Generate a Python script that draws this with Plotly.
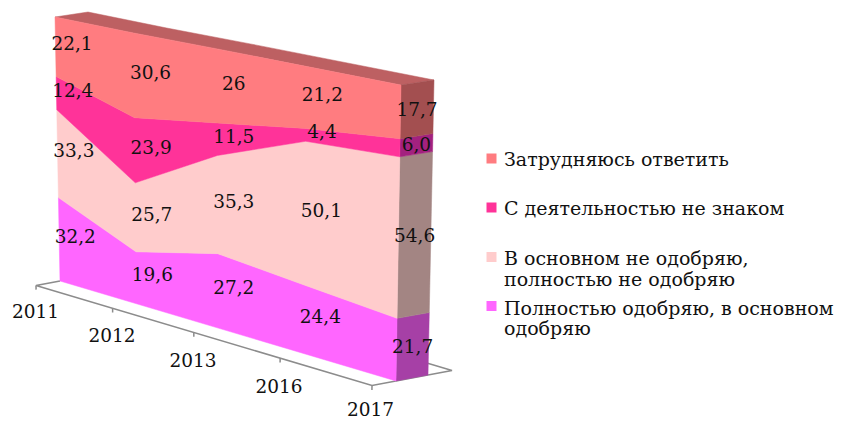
import numpy as np
import plotly.graph_objects as go

# ---- data ----
years = ["2011", "2012", "2013", "2016", "2017"]
approve = [32.2, 19.6, 27.2, 24.4, 21.7]
disapprove = [33.3, 25.7, 35.3, 50.1, 54.6]
unfamiliar = [12.4, 23.9, 11.5, 4.4, 6.0]
undecided = [22.1, 30.6, 26.0, 21.2, 17.7]
value_labels = [
    ["32,2", "19,6", "27,2", "24,4", "21,7"],
    ["33,3", "25,7", "35,3", "50,1", "54,6"],
    ["12,4", "23,9", "11,5", "4,4", "6,0"],
    ["22,1", "30,6", "26", "21,2", "17,7"],
]
legend_lines = [
    "Затрудняюсь ответить",
    "С деятельностью не знаком",
    "В основном не одобряю,",
    "полностью не одобряю",
    "Полностью одобряю, в основном",
    "одобряю",
]

# ---- style ----
W, H = 841, 423
front_colors = ["#FF66FF", "#FFCCCC", "#FF3399", "#FF7C80"]
side_colors = ["#A640A6", "#A38583", "#A3217F", "#A34F50"]
top_color = "#BD6062"
axis_color = "#8C8C8C"
text_color = "#111111"
FONT = "DejaVu Serif"
LABEL_SIZE = 18.5
LEGEND_SIZE = 19

# ---- oblique / perspective projection (category index, percent, depth) -> page ----
src = [(0, 0), (4, 0), (0, 100), (4, 100)]
dst = [(60, 281), (396, 381), (55, 17), (401, 85)]
A, b = [], []
for (u, v), (px, py) in zip(src, dst):
    A.append([u, v, 1, 0, 0, 0, -u * px, -v * px])
    A.append([0, 0, 0, u, v, 1, -u * py, -v * py])
    b += [px, py]
h = np.linalg.solve(np.array(A, float), np.array(b, float))


def project(u, v, d=0.0):
    w = h[6] * u + h[7] * v + 1
    x = (h[0] * u + h[1] * v + h[2]) / w
    y = (h[3] * u + h[4] * v + h[5]) / w
    return x + d * (32 + v / 100), y + d * (-6 + v / 100)


def path(points):
    xs, ys = zip(*[project(*p) for p in points])
    return list(xs), list(ys)


fig = go.Figure()


def poly(points, color):
    xs, ys = path(points)
    fig.add_trace(go.Scatter(x=xs + xs[:1], y=ys + ys[:1], mode="lines", fill="toself",
                             fillcolor=color, line=dict(color=color, width=0.5),
                             hoverinfo="skip", showlegend=False))


def line(points):
    xs, ys = path(points)
    fig.add_trace(go.Scatter(x=xs, y=ys, mode="lines", line=dict(color=axis_color, width=1.5),
                             hoverinfo="skip", showlegend=False))


series = [approve, disapprove, unfamiliar, undecided]
stack = np.cumsum(np.array([[0] * 5] + series, float), axis=0)
n = len(years)
last = n - 1
D_FRONT, D_BACK = -0.75, 1.75

# floor frame and ticks
line([(0, 0, 0), (0, 0, D_FRONT), (last, 0, D_FRONT), (last, 0, D_BACK), (0, 0, D_BACK)])
for i in range(n):
    line([(i, 0, D_FRONT), (i, -1.6, D_FRONT)])

# top and right side faces
poly([(i, stack[-1][i], 0) for i in range(n)] + [(i, stack[-1][i], 1) for i in reversed(range(n))], top_color)
for k, c in enumerate(side_colors):
    poly([(last, stack[k][last], 0), (last, stack[k + 1][last], 0),
          (last, stack[k + 1][last], 1), (last, stack[k][last], 1)], c)

# front faces
for k, c in enumerate(front_colors):
    poly([(i, stack[k + 1][i], 0) for i in range(n)] + [(i, stack[k][i], 0) for i in reversed(range(n))], c)

# data labels
for k, labels in enumerate(value_labels):
    pts = [project(i, (stack[k][i] + stack[k + 1][i]) / 2, 0.5) for i in range(n)]
    fig.add_trace(go.Scatter(x=[p[0] for p in pts], y=[p[1] + 1.5 for p in pts], mode="text", text=labels,
                             textposition="middle center",
                             textfont=dict(family=FONT, size=LABEL_SIZE, color=text_color),
                             hoverinfo="skip", showlegend=False))

# category labels (kept inside the page at the bottom edge)
pts = [project(i, -11, D_FRONT) for i in range(n)]
fig.add_trace(go.Scatter(x=[p[0] - 1 for p in pts], y=[min(p[1], H - 12) for p in pts], mode="text", text=years,
                         textposition="middle center",
                         textfont=dict(family=FONT, size=LABEL_SIZE, color=text_color),
                         hoverinfo="skip", showlegend=False))

# legend
legend_y = [158.5, 207.5, 257, 306]
line_y = [159, 207.5, 258, 278.5, 307.5, 328]
legend_colors = front_colors[::-1]
fig.add_trace(go.Scatter(x=[491.5] * 4, y=legend_y, mode="markers",
                         marker=dict(symbol="square", size=10, color=legend_colors, line=dict(width=0)),
                         hoverinfo="skip", showlegend=False))
for name, y in zip(legend_lines, line_y):
    fig.add_annotation(x=502, y=y, xref="x", yref="y", text=name, showarrow=False,
                       xanchor="left", yanchor="middle", align="left",
                       font=dict(family=FONT, size=LEGEND_SIZE, color=text_color))

fig.update_layout(
    width=W, height=H, margin=dict(l=0, r=0, t=0, b=0), autosize=False,
    paper_bgcolor="white", plot_bgcolor="white",
    xaxis=dict(range=[0, W], visible=False, fixedrange=True),
    yaxis=dict(range=[H, 0], visible=False, fixedrange=True),
)
fig.write_html("out.html", config={"displayModeBar": False},
               post_script="document.body.style.margin='0';document.body.style.overflow='hidden';")
